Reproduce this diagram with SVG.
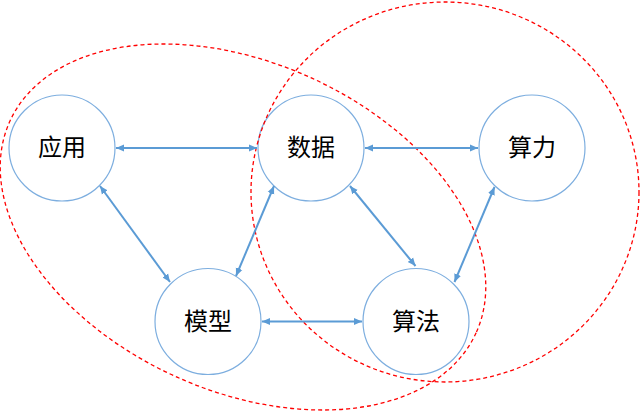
<svg xmlns="http://www.w3.org/2000/svg" width="640" height="411" viewBox="0 0 640 411">
<defs>
<marker id="ah" viewBox="0 0 8 8" refX="8" refY="4" markerWidth="8" markerHeight="8" markerUnits="userSpaceOnUse" orient="auto-start-reverse">
<path d="M0,0.5 L8,4 L0,7.5 Z" fill="#5B9BD5"/>
</marker>
</defs>
<style>
.node circle{fill:#fff;stroke:#7DAEDF;stroke-width:1.2}
.node text{font-family:"Noto Sans CJK SC","Liberation Sans",sans-serif;font-size:24px;fill:#000;text-anchor:middle}
.edge{stroke:#5B9BD5;stroke-width:2;fill:none;marker-start:url(#ah);marker-end:url(#ah)}
.grp{fill:none;stroke:#FF0000;stroke-width:1.3;stroke-dasharray:4 3}
</style>
<rect width="640" height="411" fill="#fff"/>
<g id="nodes">
<g id="n-yingyong" class="node"><circle cx="62" cy="148" r="53"/><text x="62" y="156">应用</text></g>
<g id="n-shuju" class="node"><circle cx="311" cy="148" r="53"/><text x="311" y="156">数据</text></g>
<g id="n-suanli" class="node"><circle cx="532" cy="148" r="53"/><text x="532" y="156">算力</text></g>
<g id="n-moxing" class="node"><circle cx="208" cy="321.5" r="53"/><text x="208" y="330">模型</text></g>
<g id="n-suanfa" class="node"><circle cx="416" cy="321.5" r="53"/><text x="416" y="330">算法</text></g>
</g>
<g id="groups">
<ellipse class="grp" cx="243" cy="227" rx="256" ry="164" transform="rotate(24.4 243 227)"/>
<ellipse class="grp" cx="445" cy="192" rx="194" ry="190"/>
</g>
<g id="connectors">
<line class="edge" x1="116" y1="148" x2="257" y2="148"/>
<line class="edge" x1="365" y1="148" x2="478" y2="148"/>
<line class="edge" x1="262" y1="321.5" x2="362" y2="321.5"/>
<line class="edge" x1="100" y1="186" x2="170" y2="282"/>
<line class="edge" x1="274" y1="186" x2="236" y2="276"/>
<line class="edge" x1="350" y1="186" x2="415.5" y2="266"/>
<line class="edge" x1="494.5" y1="187" x2="454.5" y2="282"/>
</g>
</svg>
